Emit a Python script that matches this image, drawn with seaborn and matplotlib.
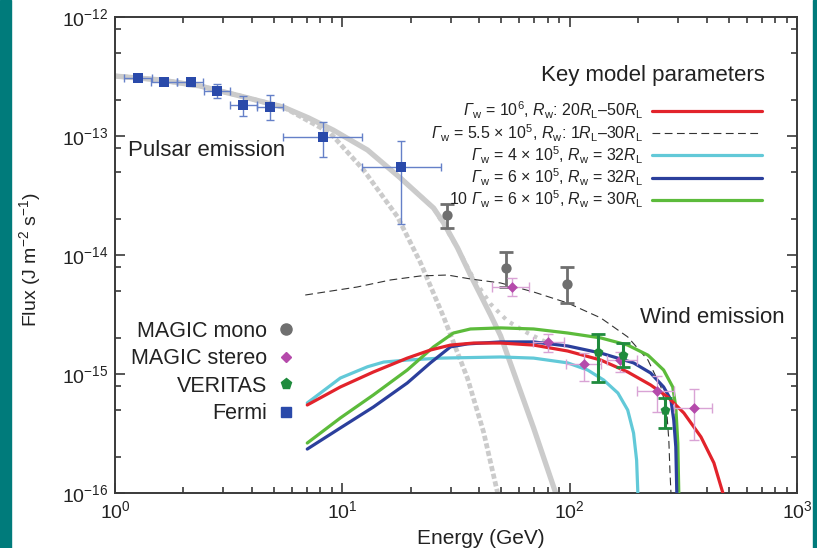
import numpy as np
import pandas as pd
import matplotlib
matplotlib.use("Agg")
import matplotlib.pyplot as plt
import seaborn as sns
from matplotlib.lines import Line2D
from matplotlib.patches import Rectangle
from matplotlib.ticker import LogLocator, NullFormatter, FixedLocator

# ---------------- data ----------------
x_ticks = [1, 10, 100, 1000]
y_ticks = [1e-16, 1e-15, 1e-14, 1e-13, 1e-12]

# Fermi
fermi_E = np.array([1.26, 1.65, 2.15, 2.80, 3.67, 4.82, 8.19, 18.2])
fermi_F = np.array([3.10e-13, 2.83e-13, 2.83e-13, 2.40e-13, 1.82e-13, 1.76e-13, 9.9e-14, 5.46e-14])
fermi_Elo = np.array([1.10, 1.44, 1.88, 2.47, 3.19, 4.20, 5.48, 12.2])
fermi_Ehi = np.array([1.45, 1.88, 2.45, 3.19, 4.20, 5.48, 12.2, 27.1])
fermi_Flo = np.array([2.98e-13, 2.70e-13, 2.65e-13, 2.10e-13, 1.48e-13, 1.35e-13, 6.62e-14, 1.81e-14])
fermi_Fhi = np.array([3.22e-13, 2.96e-13, 3.01e-13, 2.72e-13, 2.18e-13, 2.21e-13, 1.32e-13, 9.1e-14])

# MAGIC mono
mono_E = np.array([28.9, 52.7, 97.7])
mono_F = np.array([2.17e-14, 7.73e-15, 5.7e-15])
mono_Flo = np.array([1.67e-14, 5.42e-15, 3.93e-15])
mono_Fhi = np.array([2.7e-14, 1.07e-14, 7.9e-15])

# MAGIC stereo
stereo_E = np.array([55.5, 80.2, 115.6, 166.0, 241.7, 350.6])
stereo_F = np.array([5.42e-15, 1.86e-15, 1.21e-15, 1.31e-15, 7.2e-16, 5.15e-16])
stereo_Elo = np.array([45.6, 68.9, 96.1, 146.0, 198.6, 288.0])
stereo_Ehi = np.array([66.3, 94.4, 136.7, 198.0, 288.0, 420.7])
stereo_Flo = np.array([4.52e-15, 1.54e-15, 8.7e-16, 1.04e-15, 4.8e-16, 2.79e-16])
stereo_Fhi = np.array([6.37e-15, 2.17e-15, 1.49e-15, 1.54e-15, 9.6e-16, 7.43e-16])

# VERITAS
veritas_E = np.array([133.7, 172.3, 262.0])
veritas_F = np.array([1.52e-15, 1.44e-15, 4.98e-16])
veritas_Flo = np.array([8.57e-16, 1.15e-15, 3.54e-16])
veritas_Fhi = np.array([2.15e-15, 1.81e-15, 6.25e-16])

# Pulsar emission curves (grey)
psr_solid_E = [1.0, 1.58, 2.37, 3.55, 5.50, 7.1, 9.13, 12.9, 18.0, 25.2, 27.9, 32.1, 36.6, 44.9, 49.7, 69.4, 86.8]
psr_solid_F = [3.19e-13, 2.96e-13, 2.63e-13, 2.17e-13, 1.75e-13, 1.42e-13, 1.12e-13, 7.63e-14, 4.44e-14,
               2.48e-14, 1.86e-14, 1.15e-14, 6.79e-15, 3.13e-15, 2.09e-15, 3.52e-16, 1.0e-16]
psr_dash_E = [1.0, 1.58, 2.37, 3.55, 5.50, 8.85, 12.4, 17.5, 22.1, 27.9, 35.5, 41.8, 48.2]
psr_dash_F = [3.19e-13, 2.96e-13, 2.63e-13, 2.17e-13, 1.75e-13, 1.06e-13, 5.18e-14, 2.09e-14,
              8.57e-15, 3.01e-15, 9.25e-16, 3.26e-16, 1.0e-16]
psr_dot_E = [18.0, 25.2, 32.1, 37.8, 44.9, 53.3, 65.3, 78.4]
psr_dot_F = [4.44e-14, 2.48e-14, 1.15e-14, 6.29e-15, 3.87e-15, 2.79e-15, 2.21e-15, 1.86e-15]

# Wind models
m2_E = [6.87, 11.6, 16.3, 22.1, 29.0, 36.6, 49.7, 69.4, 98.0, 137, 180, 221, 252, 267, 273, 276, 279]
m2_F = [4.61e-15, 5.38e-15, 6.17e-15, 6.67e-15, 6.79e-15, 6.29e-15, 5.82e-15, 4.89e-15, 3.95e-15,
        2.96e-15, 2.05e-15, 1.31e-15, 7.78e-16, 4.98e-16, 2.79e-16, 1.56e-16, 1.0e-16]
red_E = [7.01, 9.8, 13.7, 19.3, 24.4, 29.9, 37.8, 49.7, 69.4, 98.0, 137, 180, 227, 270, 318, 378, 431, 472]
red_F = [5.49e-16, 7.78e-16, 1.04e-15, 1.36e-15, 1.59e-15, 1.75e-15, 1.82e-15, 1.82e-15, 1.75e-15,
         1.56e-15, 1.31e-15, 1.04e-15, 8.09e-16, 6.41e-16, 4.70e-16, 2.96e-16, 1.79e-16, 1.0e-16]
blue_E = [7.01, 9.8, 13.7, 19.3, 24.4, 29.9, 35.5, 49.7, 69.4, 98.0, 137, 191, 227, 259, 279, 287, 293, 296]
blue_F = [2.34e-16, 3.52e-16, 5.28e-16, 8.40e-16, 1.24e-15, 1.69e-15, 1.79e-15, 1.86e-15, 1.86e-15,
          1.72e-15, 1.50e-15, 1.24e-15, 1.02e-15, 7.78e-16, 6.05e-16, 4.10e-16, 2.44e-16, 1.0e-16]
green_E = [7.01, 9.8, 13.7, 19.3, 25.2, 30.8, 36.6, 49.7, 69.4, 98.0, 137, 180, 221, 259, 284, 293, 299, 302]
green_F = [2.63e-16, 4.27e-16, 6.67e-16, 1.08e-15, 1.69e-15, 2.21e-15, 2.39e-15, 2.44e-15, 2.39e-15,
           2.21e-15, 2.01e-15, 1.75e-15, 1.44e-15, 1.08e-15, 7.78e-16, 5.28e-16, 2.63e-16, 1.0e-16]
cyan_E = [7.01, 9.8, 12.9, 15.2, 19.3, 27.0, 49.7, 69.4, 98.0, 120, 141, 163, 180, 191, 197, 199.5]
cyan_F = [5.71e-16, 9.25e-16, 1.15e-15, 1.26e-15, 1.31e-15, 1.36e-15, 1.39e-15, 1.36e-15, 1.24e-15,
          1.08e-15, 8.91e-16, 6.92e-16, 4.98e-16, 3.19e-16, 1.89e-16, 1.0e-16]

model_labels = [
    r"$\mathsf{Γ}_{\mathrm{w}}$ = 10$^{6}$, $R_{\mathrm{w}}$: 20$R_{\mathrm{L}}$–50$R_{\mathrm{L}}$",
    r"$\mathsf{Γ}_{\mathrm{w}}$ = 5.5 × 10$^{5}$, $R_{\mathrm{w}}$: 1$R_{\mathrm{L}}$–30$R_{\mathrm{L}}$",
    r"$\mathsf{Γ}_{\mathrm{w}}$ = 4 × 10$^{5}$, $R_{\mathrm{w}}$ = 32$R_{\mathrm{L}}$",
    r"$\mathsf{Γ}_{\mathrm{w}}$ = 6 × 10$^{5}$, $R_{\mathrm{w}}$ = 32$R_{\mathrm{L}}$",
    r"10 $\mathsf{Γ}_{\mathrm{w}}$ = 6 × 10$^{5}$, $R_{\mathrm{w}}$ = 30$R_{\mathrm{L}}$",
]
data_labels = ["MAGIC mono", "MAGIC stereo", "VERITAS", "Fermi"]

# ---------------- styling ----------------
sns.set_theme(style="ticks")
plt.rcParams['font.family'] = ['Liberation Sans', 'DejaVu Sans']
plt.rcParams['mathtext.fontset'] = 'custom'
plt.rcParams['mathtext.rm'] = 'Liberation Sans'
plt.rcParams['mathtext.it'] = 'Liberation Sans:italic'
plt.rcParams['mathtext.sf'] = 'Liberation Sans:italic'
plt.rcParams['mathtext.bf'] = 'Liberation Sans:bold'

C_GREY = "#cbcbcb"
C_RED = "#e2232b"
C_CYAN = "#62c9d8"
C_BLUE = "#2b3f9c"
C_GREEN = "#5cbb3b"
C_FERMI = "#2a4aaa"
C_FERMI_ERR = "#6580c8"
C_MONO = "#6f6f6f"
C_STEREO = "#b54aab"
C_STEREO_ERR = "#d9a3d5"
C_VER = "#1f8b3d"
SPINE = "#3a3a3a"
TXT = "#222222"

fig = plt.figure(figsize=(8.17, 5.48), dpi=100)
ax = fig.add_axes([115 / 817, 55 / 548, 682 / 817, 476 / 548])
ax.set_xscale('log')
ax.set_yscale('log')

# grey pulsar curves
sns.lineplot(x=psr_solid_E, y=psr_solid_F, ax=ax, color=C_GREY, lw=3.8, sort=False, estimator=None, zorder=1)
sns.lineplot(x=psr_dash_E, y=psr_dash_F, ax=ax, color=C_GREY, lw=3.4, sort=False, estimator=None,
             linestyle=(0, (1.1, 0.55)), zorder=1)
sns.lineplot(x=psr_dot_E, y=psr_dot_F, ax=ax, color=C_GREY, lw=3.0, sort=False, estimator=None,
             linestyle=(0, (0.9, 1.3)), zorder=1)

# wind models
sns.lineplot(x=cyan_E, y=cyan_F, ax=ax, color=C_CYAN, lw=2.3, sort=False, estimator=None, zorder=3)
h_cyan = ax.lines[-1]
sns.lineplot(x=m2_E, y=m2_F, ax=ax, color="#333333", lw=0.8, sort=False, estimator=None,
             linestyle=(0, (7, 4)), zorder=2)
h_m2 = ax.lines[-1]
sns.lineplot(x=green_E, y=green_F, ax=ax, color=C_GREEN, lw=2.3, sort=False, estimator=None, zorder=3)
h_green = ax.lines[-1]
sns.lineplot(x=blue_E, y=blue_F, ax=ax, color=C_BLUE, lw=2.3, sort=False, estimator=None, zorder=3)
h_blue = ax.lines[-1]
sns.lineplot(x=red_E, y=red_F, ax=ax, color=C_RED, lw=2.3, sort=False, estimator=None, zorder=4)
h_red = ax.lines[-1]

# data points
ax.errorbar(fermi_E, fermi_F, xerr=[fermi_E - fermi_Elo, fermi_Ehi - fermi_E],
            yerr=[fermi_F - fermi_Flo, fermi_Fhi - fermi_F], fmt='none', ecolor=C_FERMI_ERR,
            elinewidth=1.0, capsize=3, capthick=1.0, zorder=5)
sns.scatterplot(x=fermi_E, y=fermi_F, ax=ax, marker='s', s=58, color=C_FERMI, edgecolor=C_FERMI,
                linewidth=0, zorder=6)

ax.errorbar(mono_E, mono_F, yerr=[mono_F - mono_Flo, mono_Fhi - mono_F], fmt='none', ecolor=C_MONO,
            elinewidth=2.0, capsize=5, capthick=2.0, zorder=5)
sns.scatterplot(x=mono_E, y=mono_F, ax=ax, marker='o', s=55, color=C_MONO, edgecolor=C_MONO,
                linewidth=0, zorder=6)

ax.errorbar(stereo_E, stereo_F, xerr=[stereo_E - stereo_Elo, stereo_Ehi - stereo_E],
            yerr=[stereo_F - stereo_Flo, stereo_Fhi - stereo_F], fmt='none', ecolor=C_STEREO_ERR,
            elinewidth=1.0, capsize=3.5, capthick=1.0, zorder=5)
sns.scatterplot(x=stereo_E, y=stereo_F, ax=ax, marker='D', s=30, color=C_STEREO, edgecolor=C_STEREO,
                linewidth=0, zorder=6)

ax.errorbar(veritas_E, veritas_F, yerr=[veritas_F - veritas_Flo, veritas_Fhi - veritas_F], fmt='none',
            ecolor=C_VER, elinewidth=2.2, capsize=5, capthick=2.0, zorder=7)
sns.scatterplot(x=veritas_E, y=veritas_F, ax=ax, marker='p', s=55, color=C_VER, edgecolor=C_VER,
                linewidth=0, zorder=8)

# ---------------- axes cosmetics ----------------
ax.set_xlim(x_ticks[0], x_ticks[-1])
ax.set_ylim(y_ticks[0], y_ticks[-1])
for sp in ax.spines.values():
    sp.set_visible(True)
    sp.set_color(SPINE)
    sp.set_linewidth(1.4)

ax.xaxis.set_major_locator(FixedLocator(x_ticks))
ax.xaxis.set_minor_locator(LogLocator(base=10, subs=np.arange(2, 10), numticks=20))
ax.xaxis.set_minor_formatter(NullFormatter())
ax.yaxis.set_major_locator(FixedLocator(y_ticks))
ax.yaxis.set_minor_locator(LogLocator(base=10, subs=(2, 5, 8), numticks=20))
ax.yaxis.set_minor_formatter(NullFormatter())
ax.tick_params(which='both', direction='in', top=True, right=True, color=SPINE, width=1.2,
               labelsize=14, labelcolor=TXT)
ax.tick_params(which='major', length=7, pad=5)
ax.tick_params(which='minor', length=4)

ax.set_xlabel("Energy (GeV)", fontsize=15, color=TXT)
ax.xaxis.set_label_coords(0.537, -0.075)
ax.set_ylabel(r"Flux (J m$^{-2}$ s$^{-1}$)", fontsize=14, color=TXT)
ax.yaxis.set_label_coords(-0.105, 0.49)

ax.text(0.019, 0.72, "Pulsar emission", transform=ax.transAxes, fontsize=16, color=TXT,
        ha='left', va='center')
ax.text(0.982, 0.368, "Wind emission", transform=ax.transAxes, fontsize=16, color=TXT,
        ha='right', va='center')
ax.text(0.953, 0.878, "Key model parameters", transform=ax.transAxes, fontsize=16, color=TXT,
        ha='right', va='center')

# model legend
leg1 = ax.legend(handles=[h_red, h_m2, h_cyan, h_blue, h_green], labels=model_labels,
                 loc='center right', bbox_to_anchor=(0.949, 0.71), frameon=False, markerfirst=False,
                 fontsize=11.5, handlelength=6.9, handletextpad=0.55, labelspacing=0.05,
                 borderpad=0, borderaxespad=0)
for t in leg1.get_texts():
    t.set_color(TXT)
ax.add_artist(leg1)

# data legend
dh = [Line2D([], [], ls='none', marker='o', color=C_MONO, markersize=8),
      Line2D([], [], ls='none', marker='D', color=C_STEREO, markersize=5.5),
      Line2D([], [], ls='none', marker='p', color=C_VER, markersize=8),
      Line2D([], [], ls='none', marker='s', color=C_FERMI, markersize=7.5)]
leg2 = ax.legend(handles=dh, labels=data_labels, loc='center right', bbox_to_anchor=(0.267, 0.253),
                 frameon=False, markerfirst=False, fontsize=15.5, handlelength=1.0, handletextpad=0.4,
                 labelspacing=0.3, borderpad=0, borderaxespad=0)
for t in leg2.get_texts():
    t.set_color(TXT)

# teal page edges
fig.add_artist(Rectangle((0, 0), 11 / 817, 1, transform=fig.transFigure, color="#007b7b", zorder=0))
fig.add_artist(Rectangle((813 / 817, 0), 4 / 817, 1, transform=fig.transFigure, color="#007b7b", zorder=0))

fig.savefig("out.png", dpi=100)
